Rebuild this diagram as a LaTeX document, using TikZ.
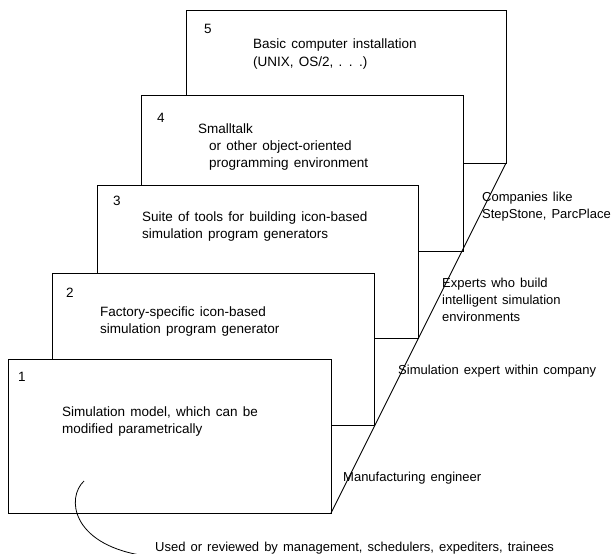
\documentclass[tikz,border=0pt]{standalone}
\usepackage{fontspec}
\setmainfont[WordSpace=1.4]{Liberation Sans}
\begin{document}
\begin{tikzpicture}[x=1pt,y=-1pt,
  card/.style={draw=black, fill=white, line width=0.9pt},
  edge/.style={draw=black, line width=0.9pt},
  cardtext/.style={anchor=base west, inner sep=0pt, align=left,
    font=\fontsize{13.5}{17}\selectfont},
  sidetext/.style={anchor=base west, inner sep=0pt, align=left,
    font=\fontsize{13}{17}\selectfont},
  num/.style={anchor=base west, inner sep=0pt,
    font=\fontsize{13.5}{17}\selectfont}]
\useasboundingbox (0,0) rectangle (611,554);

% five stacked layers, back to front
\draw[card] (186,10)  rectangle (506,163);
\draw[card] (141,95)  rectangle (463,251);
\draw[card] (97,185)  rectangle (418,338);
\draw[card] (52,273)  rectangle (374,425);
\draw[card] (8,359)   rectangle (331,513);

% corner points joined by the slanted side
\coordinate (c1) at (331,513);
\coordinate (c5) at (506,163);
\draw[edge] (c1) -- (c5);

% layer numbers
\node[num] (n5) at (204,33)  {5};
\node[num] (n4) at (157,122) {4};
\node[num] (n3) at (113,205) {3};
\node[num] (n2) at (66,297)  {2};
\node[num] (n1) at (18,381)  {1};

% layer contents (anchored at the baseline of the last line)
\node[cardtext, font=\fontsize{13.5}{18}\selectfont]
  (t5) at (253,66)  {Basic computer installation\\(UNIX, OS/2, . . .)};
\node[cardtext] (t4) at (198,167) {Smalltalk\\\hspace*{11pt}or other object-oriented\\\hspace*{11pt}programming environment};
\node[cardtext] (t3) at (142,238) {Suite of tools for building icon-based\\simulation program generators};
\node[cardtext] (t2) at (100,333) {Factory-specific icon-based\\simulation program generator};
\node[cardtext] (t1) at (62,433)  {Simulation model, which can be\\modified parametrically};

% who works at each layer
\node[sidetext] (r5) at (482,218) {Companies like\\StepStone, ParcPlace};
\node[sidetext] (r4) at (442,321) {Experts who build\\intelligent simulation\\environments};
\node[sidetext] (r3) at (398,374) {Simulation expert within company};
\node[sidetext] (r2) at (343,481) {Manufacturing engineer};

% users of the bottom layer
\node[sidetext] (users) at (155,551) {Used or reviewed by management, schedulers, expediters, trainees};
\coordinate (hook) at (84,481);
\draw[edge, line width=0.8pt] (hook) .. controls (66,498) and (72,543) .. ([xshift=-15pt,yshift=-4pt]users.base west);
\end{tikzpicture}
\end{document}
